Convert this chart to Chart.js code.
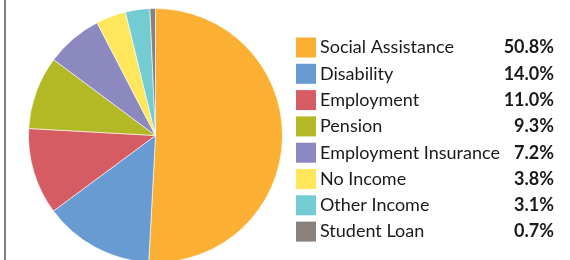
<!DOCTYPE html>
<html>
<head>
<meta charset="utf-8">
<script src="https://cdn.jsdelivr.net/npm/chart.js@4/dist/chart.umd.min.js"></script>
<style>
    html, body { margin: 0; padding: 0; background: #fff; overflow: hidden; }
    #wrap { position: relative; width: 570px; height: 260px; }
    #edge { position: absolute; left: 4px; top: 0; width: 2px; height: 260px; background: #808080; }
</style>
</head>
<body>
<div id="wrap">
    <canvas id="pie" width="570" height="260"></canvas>
    <div id="edge"></div>
</div>
<script>
const categories = ['Social Assistance', 'Disability', 'Employment', 'Pension',
    'Employment Insurance', 'No Income', 'Other Income', 'Student Loan'];
const shares = [50.8, 14.0, 11.0, 9.3, 7.2, 3.8, 3.1, 0.7];
const sliceColors = ['#FBB034', '#689BD2', '#D65C64', '#B2B924',
    '#8C89C1', '#FFE65B', '#74CCD3', '#8A817A'];

// legend drawn on the canvas next to the pie, with bold right-aligned percentages
const sideLegend = {
    id: 'sideLegend',
    afterDraw(chart) {
        const ctx = chart.ctx;
        const labels = chart.data.labels;
        const vals = chart.data.datasets[0].data;
        const cols = chart.data.datasets[0].backgroundColor;
        ctx.save();
        ctx.textBaseline = 'middle';
        labels.forEach((lab, i) => {
            const y = 37.5 + i * 26.3;
            ctx.fillStyle = cols[i];
            ctx.fillRect(296, y, 20, 20);
            ctx.fillStyle = '#1a1a1a';
            ctx.font = '18px Lato';
            ctx.textAlign = 'left';
            ctx.fillText(lab, 320, y + 10);
            ctx.font = 'bold 18px Lato';
            ctx.textAlign = 'right';
            ctx.fillText(vals[i].toFixed(1) + '%', 554, y + 10);
        });
        ctx.restore();
    }
};

new Chart(document.getElementById('pie'), {
    type: 'pie',
    data: {
        labels: categories,
        datasets: [{
            data: shares,
            backgroundColor: sliceColors,
            borderColor: 'rgba(255,255,255,0.6)',
            borderWidth: 1
        }]
    },
    options: {
        responsive: false,
        animation: false,
        radius: 127,
        layout: { padding: { left: 28, right: 287, top: 11, bottom: 0 } },
        plugins: {
            legend: { display: false },
            tooltip: { enabled: false }
        }
    },
    plugins: [sideLegend]
});
</script>
</body>
</html>
